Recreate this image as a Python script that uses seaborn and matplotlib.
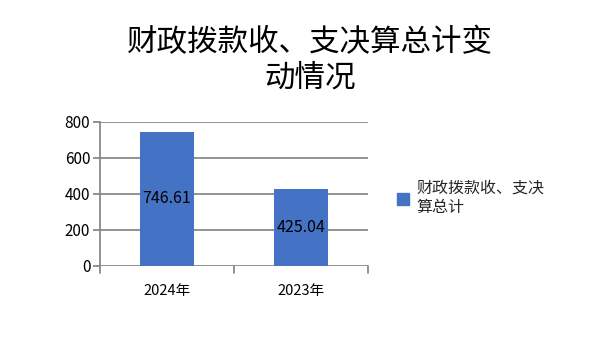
import matplotlib
matplotlib.use("Agg")
import matplotlib.pyplot as plt
import seaborn as sns
import pandas as pd
from matplotlib.patches import Patch

categories = ["2024年", "2023年"]
values = [746.61, 425.04]
series_name = "财政拨款收、支决算总计"
title_text = "财政拨款收、支决算总计变\n动情况"
yticks = [0, 200, 400, 600, 800]

sns.set_theme(style="white")
plt.rcParams['font.family'] = ['Noto Sans CJK SC', 'DejaVu Sans']

df = pd.DataFrame({"cat": categories, "val": values})

fig = plt.figure(figsize=(5.96, 3.38), dpi=100)
ax = fig.add_axes([100/596, 1-266/338, 268/596, 144/338])
blue = "#4472C4"
sns.barplot(data=df, x="cat", y="val", color=blue, width=0.4, ax=ax, saturation=1,
            edgecolor=blue, linewidth=0)
ax.set_xlim(-0.5, 1.5)
ax.set_ylim(0, 800)
ax.set_yticks(yticks)
ax.set_yticklabels([str(t) for t in yticks], fontsize=11, color="black")
ax.set_xlabel("")
ax.set_ylabel("")
grid_c = "#898989"
for t in yticks:
    ax.axhline(t, color=grid_c, lw=1.3, zorder=0)
for s in ["top", "right", "bottom"]:
    ax.spines[s].set_visible(False)
ax.spines["left"].set_color(grid_c)
ax.spines["left"].set_linewidth(1.3)
ax.tick_params(axis="y", left=True, length=5, width=1.3, color=grid_c, pad=2)
ax.set_xticks([0, 1])
ax.set_xticklabels(categories, fontsize=10.5, color="black")
ax.tick_params(axis="x", bottom=False, pad=7)
for xb in [-0.5, 0.5, 1.5]:
    ax.plot([xb, xb], [0, -0.05], transform=ax.get_xaxis_transform(), color=grid_c, lw=1.3, clip_on=False)

for i, v in enumerate(values):
    ax.text(i, v/2, f"{v:.2f}", ha="center", va="center", fontsize=11.5, color="black")

fig.text(0.52, 1-60/338, title_text, ha="center", va="center", fontsize=22, color="black",
         linespacing=1.2, fontweight="medium")

handle = Patch(facecolor=blue, edgecolor=blue)
fig.legend([handle], ["财政拨款收、支决\n算总计"], loc="center left", bbox_to_anchor=(383/596, 1-198/338),
           frameon=False, fontsize=11.5, handlelength=0.7, handleheight=0.7, handletextpad=0.5,
           labelspacing=0.2)
fig.savefig("out.png", dpi=100)
